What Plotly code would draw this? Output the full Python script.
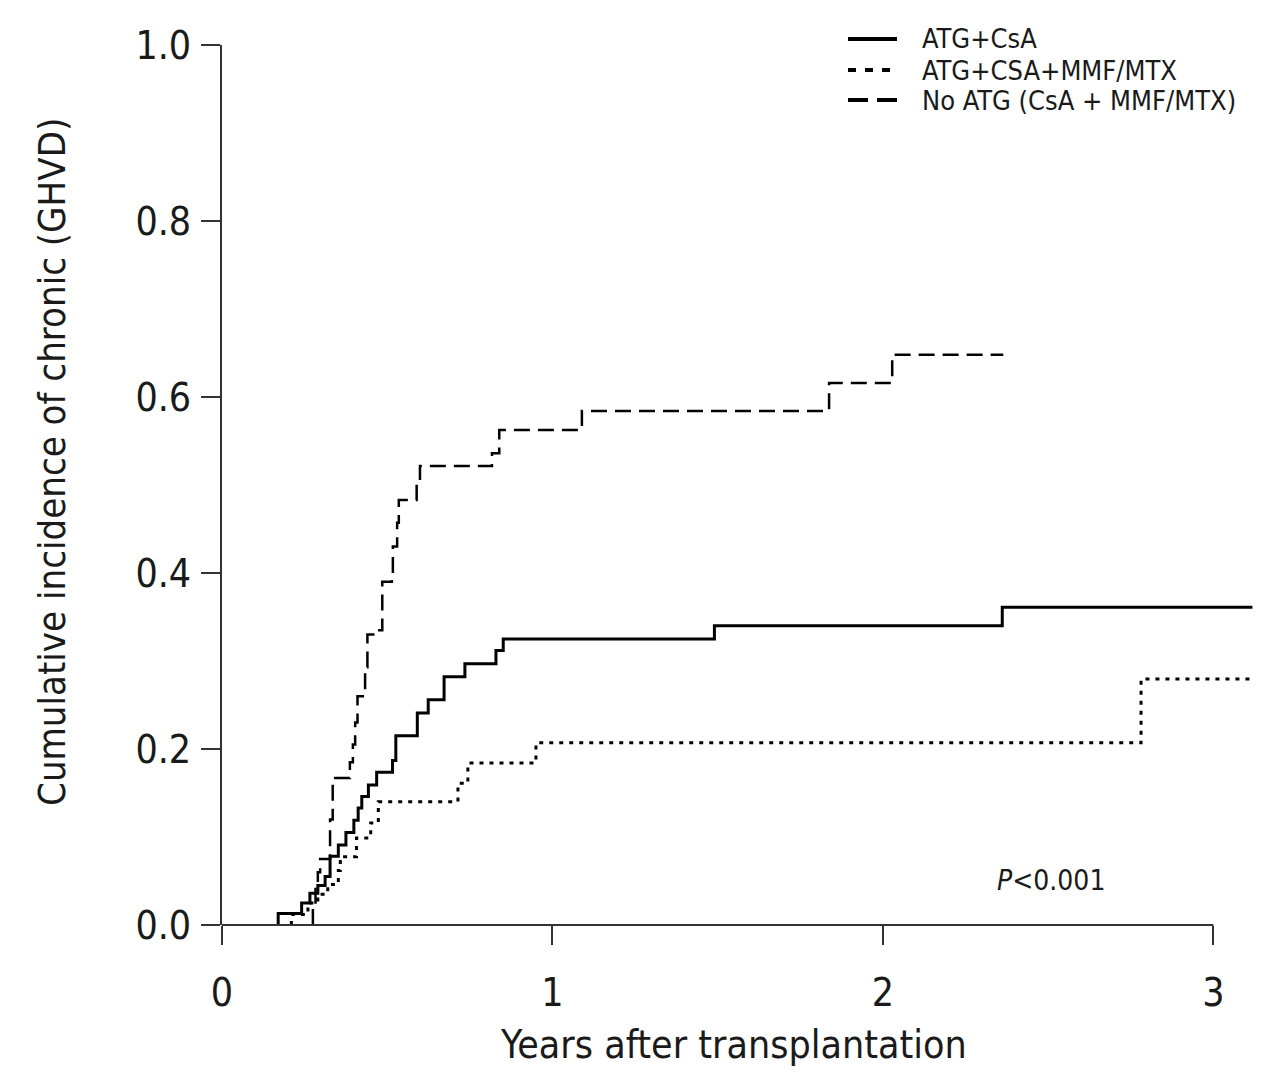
import plotly.graph_objects as go

# ---------------- data ----------------
atg_csa_t = [0.170, 0.170, 0.241, 0.266, 0.290, 0.312, 0.327, 0.352, 0.375, 0.399, 0.412,
             0.423, 0.443, 0.468, 0.516, 0.526, 0.591, 0.624, 0.672, 0.735, 0.829,
             0.851, 1.490, 2.361, 3.118]
atg_csa_y = [0.000, 0.013, 0.025, 0.036, 0.045, 0.055, 0.078, 0.091, 0.105, 0.119, 0.133,
             0.146, 0.159, 0.1735, 0.187, 0.215, 0.241, 0.256, 0.282, 0.297, 0.312,
             0.325, 0.340, 0.361, 0.361]

atg_mmf_t = [0.210, 0.210, 0.260, 0.290, 0.320, 0.352, 0.358, 0.407, 0.450, 0.473,
             0.714, 0.744, 0.950, 2.781, 3.117]
atg_mmf_y = [0.000, 0.012, 0.025, 0.035, 0.046, 0.062, 0.0776, 0.099, 0.116, 0.140,
             0.161, 0.184, 0.207, 0.2795, 0.2795]

noatg_t = [0.275, 0.275, 0.283, 0.290, 0.297, 0.327, 0.335, 0.387, 0.396, 0.403, 0.410,
           0.433, 0.440, 0.470, 0.485, 0.514, 0.517, 0.530, 0.535, 0.589, 0.599,
           0.817, 0.839, 1.089, 1.837, 2.028, 2.364]
noatg_y = [0.000, 0.020, 0.045, 0.060, 0.075, 0.120, 0.167, 0.185, 0.205, 0.230, 0.260,
           0.293, 0.330, 0.335, 0.390, 0.395, 0.430, 0.457, 0.483, 0.505, 0.5216,
           0.536, 0.5625, 0.584, 0.616, 0.648, 0.648]

series_names = ["ATG+CsA", "ATG+CSA+MMF/MTX", "No ATG (CsA + MMF/MTX)"]
x_ticks = [0, 1, 2, 3]
y_ticks = [0.0, 0.2, 0.4, 0.6, 0.8, 1.0]
y_tick_labels = ["0.0", "0.2", "0.4", "0.6", "0.8", "1.0"]
x_title = "Years after transplantation"
y_title = "Cumulative incidence of chronic (GHVD)"
p_text = "<i>P</i>&lt;0.001"

# ---------------- layout constants ----------------
W, H = 1280, 1083
OFF = 8                      # page body margin
SL, SR, ST, SB = 222, 1263, 45, 925   # plot area in screen pixels
ML = SL - OFF
MR = W - (SR - OFF)
MT = ST - OFF
MB = H - (SB - OFF)
XMAX = 3.15
PW = SR - SL
PH = SB - ST
FONT = "Liberation Sans Narrow, Arial Narrow, DejaVu Sans Condensed, sans-serif"
INK = "#1a1a1a"


def px_x(px):
    return (px - SL) / PW


def px_y(py):
    return (SB - py) / PH


fig = go.Figure()
styles = [
    dict(color="black", width=3, dash="solid"),
    dict(color="black", width=3, dash="4px,6px"),
    dict(color="black", width=2.5, dash="16px,8px"),
]
for name, t, y, st in zip(series_names,
                          [atg_csa_t, atg_mmf_t, noatg_t],
                          [atg_csa_y, atg_mmf_y, noatg_y], styles):
    fig.add_trace(go.Scatter(x=t, y=y, mode="lines", name=name,
                             line=dict(shape="hv", **st), showlegend=False,
                             cliponaxis=False))

# manual legend
leg_rows = [39, 70, 100]
leg_dash = ["solid", "8px,9px", "20px,9px"]
shapes = []
annotations = []
for name, ry, dsh in zip(series_names, leg_rows, leg_dash):
    shapes.append(dict(type="line", xref="paper", yref="paper",
                       x0=px_x(848), x1=px_x(897), y0=px_y(ry), y1=px_y(ry),
                       line=dict(color="black", width=4, dash=dsh)))
    annotations.append(dict(xref="paper", yref="paper", x=px_x(920), y=px_y(ry),
                            text=name, showarrow=False, xanchor="left", yanchor="middle",
                            font=dict(family=FONT, size=27, color=INK)))

# x axis line (only from 0 to 3)
shapes.append(dict(type="line", xref="paper", yref="paper",
                   x0=0, x1=3 / XMAX, y0=0, y1=0,
                   line=dict(color="#333333", width=2)))

annotations.append(dict(xref="paper", yref="paper", x=px_x(733), y=px_y(1044),
                        text=x_title, showarrow=False, xanchor="center", yanchor="middle",
                        font=dict(family=FONT, size=39, color=INK)))
annotations.append(dict(xref="paper", yref="paper", x=px_x(52), y=px_y(462),
                        text=y_title, showarrow=False, xanchor="center", yanchor="middle",
                        textangle=-90,
                        font=dict(family=FONT, size=38, color=INK)))
annotations.append(dict(xref="paper", yref="paper", x=px_x(1051), y=px_y(880),
                        text=p_text, showarrow=False, xanchor="center", yanchor="middle",
                        font=dict(family=FONT, size=28, color=INK)))

fig.update_layout(
    width=W, height=H,
    margin=dict(l=ML, r=MR, t=MT, b=MB, pad=0),
    paper_bgcolor="white", plot_bgcolor="white",
    shapes=shapes, annotations=annotations,
    xaxis=dict(range=[0, XMAX], tickvals=x_ticks, ticktext=[str(v) for v in x_ticks],
               ticks="outside", ticklen=19, tickwidth=2, tickcolor="#333333",
               showline=False, showgrid=False, zeroline=False,
               tickfont=dict(family=FONT, size=39, color=INK),
               ticklabelstandoff=14),
    yaxis=dict(range=[0, 1.0], tickvals=y_ticks, ticktext=y_tick_labels,
               ticks="outside", ticklen=19, tickwidth=2, tickcolor="#333333",
               showline=True, linecolor="#333333", linewidth=2,
               showgrid=False, zeroline=False,
               tickfont=dict(family=FONT, size=39, color=INK),
               ticklabelstandoff=2),
)

fig.write_html("out.html")
